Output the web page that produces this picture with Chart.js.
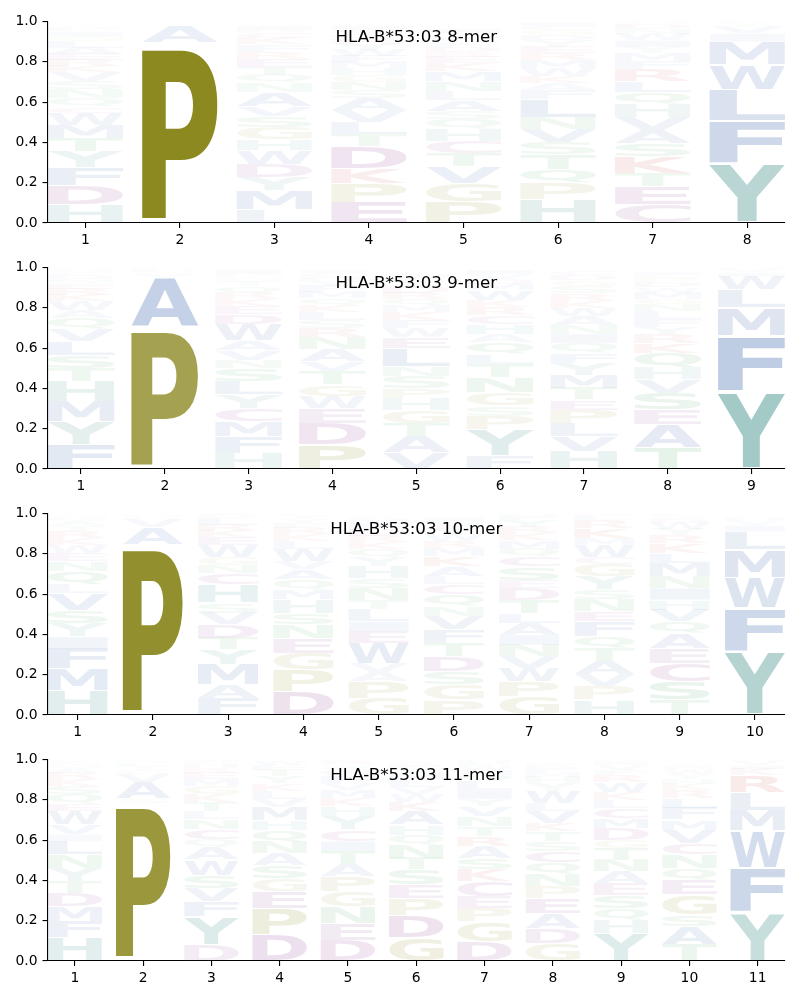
<!DOCTYPE html>
<html>
<head>
<meta charset="utf-8">
<script src="https://cdn.jsdelivr.net/npm/chart.js@4.4.1/dist/chart.umd.min.js"></script>
<style>
  body { margin: 0; background: #fff; }
  #wrap { position: relative; width: 800px; height: 1000px; }
  #wrap canvas { position: absolute; left: 0; }
</style>
</head>
<body>
<div id="wrap"></div>
<script>
const ALLELE = 'HLA-B*53:03';
const LENGTHS = [8, 9, 10, 11];
const Y_TICKS = [0, 0.2, 0.4, 0.6, 0.8, 1.0];

// each position: letters stacked bottom -> top, with their heights
const MER8 = [
  ['HDFYTMWCQNSVKREALGIP', [.09,.095,.09,.08,.065,.065,.06,.03,.045,.045,.04,.045,.03,.03,.03,.03,.03,.025,.025,.02]],
  ['PASGVLT', [.895,.085,.006,.004,.004,.003,.003]],
  ['LMYDWHGSVANQTERFKCPI', [.065,.095,.065,.065,.07,.055,.06,.055,.05,.07,.045,.04,.04,.04,.035,.035,.03,.025,.02,.02]],
  ['EPKDTLVASNGHMFWYRQCI', [.10,.095,.075,.11,.06,.06,.06,.06,.04,.04,.035,.035,.03,.03,.03,.03,.025,.025,.02,.02]],
  ['PGVTCHQSALNMKERDFWYI', [.105,.09,.085,.065,.06,.06,.05,.04,.055,.045,.05,.05,.04,.03,.025,.025,.025,.025,.02,.02]],
  ['HPQTSVNLFAKWMREYDGCI', [.115,.085,.065,.075,.06,.065,.06,.09,.045,.035,.035,.04,.04,.035,.03,.03,.025,.025,.02,.02]],
  ['CETKSAVHQLRFMYIWNDG', [.09,.09,.065,.085,.065,.065,.065,.065,.06,.055,.06,.04,.04,.03,.03,.03,.025,.025,.015]],
  ['YFLWMIVTSA', [.295,.21,.155,.125,.115,.04,.03,.01,.01,.01]]
];
const MER9 = [
  ['FYMHTSLVQAWKRENDCGP', [.12,.115,.10,.10,.065,.065,.07,.06,.055,.04,.045,.03,.03,.025,.02,.02,.015,.015,.01]],
  ['PAVSLG', [.70,.25,.015,.01,.01,.01]],
  ['HFMCYLSNVAWDEKRQTGPI', [.078,.083,.075,.066,.066,.066,.066,.04,.05,.05,.08,.05,.04,.035,.03,.03,.025,.02,.02,.02]],
  ['PDEWGTVANRSLKQMFYHCI', [.12,.107,.074,.058,.058,.066,.05,.06,.06,.045,.04,.04,.035,.035,.03,.03,.025,.02,.02,.015]],
  ['VATGHPSNLEWFKMQRDYCI', [.08,.08,.066,.066,.058,.05,.06,.05,.09,.055,.045,.04,.04,.035,.03,.03,.03,.025,.02,.02]],
  ['FYPSGNTLQAHCRKWMDVI', [.066,.13,.066,.05,.066,.075,.066,.05,.058,.04,.05,.045,.04,.035,.05,.03,.025,.025,.02]],
  ['HVLPETMYFQINAWKRSGDC', [.086,.075,.066,.066,.05,.058,.066,.058,.05,.05,.045,.045,.045,.04,.035,.035,.035,.03,.025,.02]],
  ['TAESVHQKRYFLNGMWDPCI', [.105,.115,.074,.083,.066,.058,.074,.05,.045,.035,.04,.04,.03,.03,.03,.025,.025,.02,.02,.015]],
  ['YFMLWIVH', [.385,.275,.14,.09,.065,.02,.015,.01]]
];
const MER10 = [
  ['HMFIYSVLQNEWKRTADG', [.12,.11,.10,.058,.066,.065,.085,.045,.065,.05,.04,.04,.035,.035,.025,.025,.015,.015]],
  ['PAVSGL', [.845,.085,.04,.01,.01,.005]],
  ['FAMYTDVSHCNGWEKRLQI', [.083,.066,.10,.075,.058,.066,.058,.05,.09,.058,.04,.04,.06,.04,.03,.03,.03,.02,.01]],
  ['DPGENSHMQAVWLKRFYTC', [.116,.108,.083,.075,.066,.058,.066,.05,.05,.05,.04,.06,.04,.035,.03,.025,.02,.015,.01]],
  ['GPAVWEILTNSHYQKRDFMC', [.083,.083,.045,.045,.10,.058,.05,.058,.045,.06,.05,.06,.045,.04,.035,.03,.03,.03,.025,.015]],
  ['PGSDTFVNQCLAKMRWYEHI', [.075,.075,.066,.075,.066,.066,.066,.05,.058,.05,.04,.05,.05,.04,.035,.03,.03,.02,.02,.02]],
  ['GPWVNIALTDESCQMKRYFH', [.09,.075,.066,.058,.058,.05,.058,.05,.066,.058,.04,.066,.05,.04,.04,.035,.03,.035,.02,.015]],
  ['HPVATQFENSYGCWMKRLD', [.075,.066,.06,.065,.066,.058,.075,.05,.058,.05,.066,.06,.035,.06,.035,.05,.04,.02,.015]],
  ['TSCEAQVHINMLKRYWDGF', [.075,.09,.09,.075,.075,.058,.058,.05,.058,.058,.066,.05,.05,.04,.03,.03,.02,.015,.01]],
  ['YFWMLIVH', [.315,.215,.15,.14,.09,.03,.025,.015]]
];
const MER11 = [
  ['HFMDTYNLIVWEQSKRAGCP', [.116,.08,.075,.066,.058,.066,.066,.066,.035,.05,.066,.035,.05,.04,.035,.03,.025,.02,.015,.01]],
  ['PSAVGTLN', [.785,.02,.08,.04,.02,.02,.015,.01]],
  ['DYFVSWAQCNLTKGMERHPI', [.08,.14,.075,.066,.066,.075,.06,.04,.05,.05,.04,.045,.04,.04,.035,.03,.025,.02,.015,.01]],
  ['DPEGSANQHMVLKYTFWRC', [.13,.13,.083,.066,.066,.058,.058,.058,.05,.066,.04,.04,.035,.035,.03,.025,.02,.005,.005]],
  ['DENGPATICYHKMVFWSQR', [.104,.083,.083,.075,.075,.058,.066,.05,.058,.066,.05,.04,.04,.035,.03,.025,.025,.02,.015]],
  ['GDPESTNQHAKWVLMYFRCI', [.116,.112,.083,.066,.075,.058,.066,.05,.05,.066,.045,.04,.035,.035,.03,.025,.02,.015,.01,.005]],
  ['DGPECKSARTNVYILQMWFH', [.096,.1,.066,.058,.075,.058,.058,.058,.05,.05,.05,.05,.035,.045,.045,.03,.025,.02,.015,.015]],
  ['GDAEPNQCSTKVLWYHMFRI', [.088,.075,.075,.075,.058,.058,.058,.058,.05,.05,.04,.058,.04,.06,.04,.03,.025,.02,.015,.01]],
  ['YHQSEANTGDMCLKWRFVIP', [.137,.066,.058,.066,.058,.058,.058,.058,.041,.058,.05,.05,.041,.04,.05,.035,.025,.025,.015,.01]],
  ['TASGEQNCVMFLRKHYWDI', [.08,.09,.058,.1,.075,.058,.066,.058,.066,.05,.058,.05,.04,.03,.025,.025,.02,.015,.01]],
  ['YFWMLRKIVH', [.24,.22,.185,.10,.09,.085,.03,.02,.02,.01]]
];
const LOGOS = [MER8, MER9, MER10, MER11];

// colour groups
const GROUPS = [
  ['AFILMVW', [22, 73, 157]],
  ['HY', [16, 116, 109]],
  ['GP', [126, 123, 7]],
  ['CDE', [112, 7, 122]],
  ['KR', [192, 20, 28]],
  ['NQST', [10, 138, 40]]
];
function letterColor(ch, h) {
  const g = GROUPS.find(g => g[0].includes(ch));
  const [r, gg, b] = g ? g[1] : [0, 0, 0];
  return `rgba(${r},${gg},${b},${Math.min(1, h)})`;
}

const HALF_WIDTH = 0.4;
const VPAD = 0.06;
const GLYPH_FONT = 'bold 200px "DejaVu Sans"';
const metrics = {};

function glyphMetrics(ctx, ch) {
  if (!metrics[ch]) {
    ctx.font = GLYPH_FONT;
    const m = ctx.measureText(ch);
    metrics[ch] = {
      l: m.actualBoundingBoxLeft, r: m.actualBoundingBoxRight,
      a: m.actualBoundingBoxAscent, d: m.actualBoundingBoxDescent
    };
  }
  return metrics[ch];
}

function drawGlyph(ctx, ch, x, y, w, h, color) {
  if (w <= 0 || h <= 0.05) return;
  const m = glyphMetrics(ctx, ch);
  ctx.save();
  ctx.translate(x, y);
  ctx.scale(w / (m.l + m.r), h / (m.a + m.d));
  ctx.font = GLYPH_FONT;
  ctx.textAlign = 'left';
  ctx.textBaseline = 'alphabetic';
  ctx.fillStyle = color;
  ctx.fillText(ch, m.l, m.a);
  ctx.restore();
}

const logoPlugin = {
  id: 'logo',
  afterDatasetsDraw(chart) {
    const { ctx, chartArea: a, scales: { x, y } } = chart;
    ctx.save();
    ctx.beginPath();
    ctx.rect(a.left, a.top, a.right - a.left, a.bottom - a.top);
    ctx.clip();
    chart.data.datasets[0].data.forEach(p => {
      const x0 = x.getPixelForValue(p.x - HALF_WIDTH);
      const x1 = x.getPixelForValue(p.x + HALF_WIDTH);
      const yb = y.getPixelForValue(p.base);
      const yt = y.getPixelForValue(p.y);
      const pad = (yb - yt) * VPAD / 2;
      drawGlyph(ctx, p.letter, x0, yt + pad, x1 - x0, yb - yt - 2 * pad, letterColor(p.letter, p.h));
    });
    ctx.restore();

    ctx.save();
    ctx.font = '16.67px "DejaVu Sans"';
    ctx.fillStyle = '#000';
    ctx.textAlign = 'center';
    ctx.textBaseline = 'alphabetic';
    ctx.fillText(chart.options.plugins.logo.title, (a.left + a.right) / 2, a.top + 20);
    ctx.restore();
  }
};

const tickFont = { family: 'DejaVu Sans', size: 13.9 };
const axisGrid = { display: true, drawOnChartArea: false, drawTicks: true, tickLength: 5, color: '#000', lineWidth: 1.1 };
const axisBorder = { display: true, color: '#000', width: 1.1 };

const wrap = document.getElementById('wrap');
LENGTHS.forEach((len, i) => {
  const canvas = document.createElement('canvas');
  canvas.width = 800;
  canvas.height = 246;
  canvas.style.top = (246 * i) + 'px';
  wrap.appendChild(canvas);

  const points = [];
  LOGOS[i].forEach(([letters, heights], j) => {
    let base = 0;
    heights.forEach((h, k) => {
      points.push({ x: j + 1, y: base + h, base, h, letter: letters[k] });
      base += h;
    });
  });
  const positions = LOGOS[i].map((_, j) => j + 1);

  new Chart(canvas, {
    type: 'scatter',
    data: { datasets: [{ data: points, pointRadius: 0, pointHoverRadius: 0, showLine: false }] },
    options: {
      responsive: false,
      animation: false,
      events: [],
      layout: { padding: { top: 21.5, right: 15, left: 0, bottom: 0 } },
      plugins: {
        legend: { display: false },
        tooltip: { enabled: false },
        logo: { title: `${ALLELE} ${len}-mer` }
      },
      scales: {
        x: {
          type: 'linear',
          min: 0.6,
          max: len + 0.4,
          afterBuildTicks: s => { s.ticks = positions.map(v => ({ value: v })); },
          afterFit: s => { s.height = 23; },
          grid: axisGrid,
          border: axisBorder,
          ticks: { color: '#000', font: tickFont, padding: 4, maxRotation: 0, callback: v => String(v) }
        },
        y: {
          min: 0,
          max: 1,
          afterBuildTicks: s => { s.ticks = Y_TICKS.map(v => ({ value: v })); },
          afterFit: s => { s.width = 47.5; },
          grid: axisGrid,
          border: axisBorder,
          ticks: { color: '#000', font: tickFont, padding: 5, callback: v => v.toFixed(1) }
        }
      }
    },
    plugins: [logoPlugin]
  });
});
</script>
</body>
</html>
